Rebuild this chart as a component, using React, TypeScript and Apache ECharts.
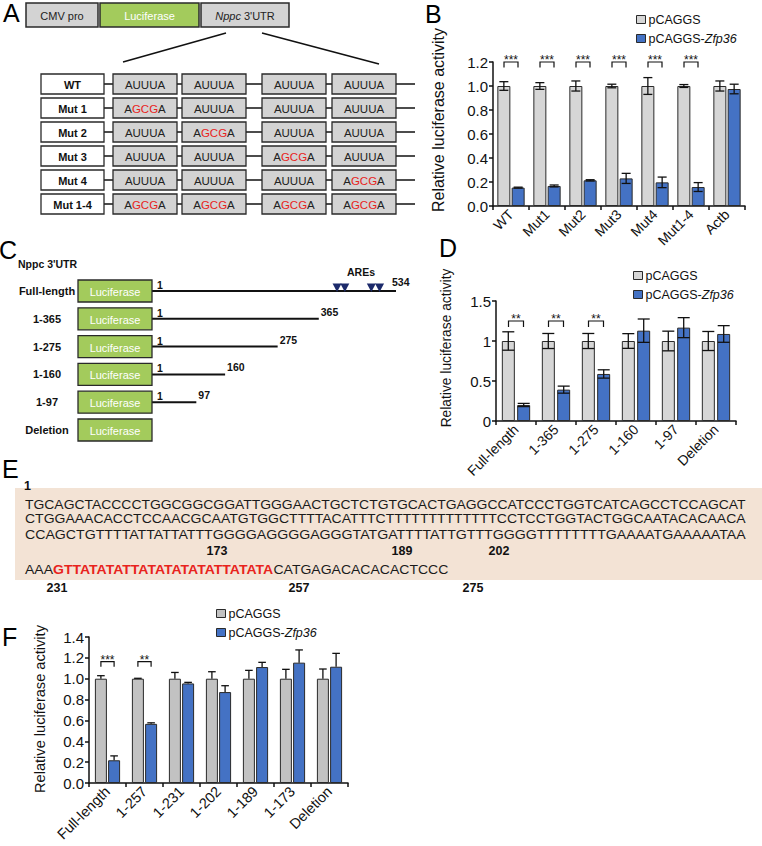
import React, { useEffect, useRef } from 'react';
import * as echarts from 'echarts';

const FONT = '"Liberation Sans", Arial, Helvetica, sans-serif';
const GRAY = '#d6d6d6';
const GRAY_F = '#c2c2c2';
const BLUE = '#4472c4';
const GREEN = '#a3cb5c';
const EDGE = '#2a2a2a';
const RED = '#e8231d';

// ---------- Panel A ----------
const constructParts = ['CMV pro', 'Luciferase', "{i|Nppc} 3'UTR"];
const mutantRows = ['WT', 'Mut 1', 'Mut 2', 'Mut 3', 'Mut 4', 'Mut 1-4'];
const mutatedSites = [[], [0], [1], [2], [3], [0, 1, 2, 3]];
const wildMotif = 'AUUUA';
const mutMotif = 'A{r|GCG}A';

// ---------- Panel B ----------
const catB = ['WT', 'Mut1', 'Mut2', 'Mut3', 'Mut4', 'Mut1-4', 'Actb'];
const ctrlB = [1, 1, 1, 1, 1, 1, 1];
const ctrlErrB = [0.036, 0.028, 0.042, 0.015, 0.07, 0.012, 0.042];
const zfpB = [0.153, 0.167, 0.214, 0.23, 0.197, 0.158, 0.975];
const zfpErrB = [0.004, 0.008, 0.005, 0.042, 0.044, 0.037, 0.04];
const sigB = ['***', '***', '***', '***', '***', '***', ''];
const axisB = { min: 0, max: 1.2, interval: 0.2 };

// ---------- Panel C ----------
const rowsC = ['Full-length', '1-365', '1-275', '1-160', '1-97', 'Deletion'];
const lengthsC = [534, 365, 275, 160, 97, 0];
const fullLengthC = 534;
const aresC = [405, 422, 480, 498];

// ---------- Panel D ----------
const catD = ['Full-length', '1-365', '1-275', '1-160', '1-97', 'Deletion'];
const ctrlD = [1, 1, 1, 1, 1, 1];
const ctrlErrD = [0.115, 0.094, 0.094, 0.092, 0.123, 0.119];
const zfpD = [0.2, 0.392, 0.588, 1.129, 1.167, 1.088];
const zfpErrD = [0.02, 0.044, 0.052, 0.146, 0.125, 0.104];
const sigD = ['**', '**', '**', '', '', ''];
const axisD = { min: 0, max: 1.5, interval: 0.5 };

// ---------- Panel E ----------
const seqLines = [
  'TGCAGCTACCCCTGGCGGCGGATTGGGAACTGCTCTGTGCACTGAGGCCATCCCTGGTCATCAGCCTCCAGCAT',
  'CTGGAAACACCTCCAACGCAATGTGGCTTTTACATTTCTTTTTTTTTTTTTCCTCCTGGTACTGGCAATACACAACA',
  'CCAGCTGTTTTATTATTATTTGGGGAGGGGAGGGTATGATTTTATTGTTTGGGGTTTTTTTTGAAAATGAAAAATAA',
];
const seqLastBefore = 'AAA';
const seqLastAre = 'GTTATATATTATATATATATTATATA';
const seqLastAfter = 'CATGAGACACACACTCCC';
const seqMarks = ['1', '173', '189', '202', '231', '257', '275'];

// ---------- Panel F ----------
const catF = ['Full-length', '1-257', '1-231', '1-202', '1-189', '1-173', 'Deletion'];
const ctrlF = [1, 1, 1, 1, 1, 1, 1];
const ctrlErrF = [0.029, 0.004, 0.06, 0.067, 0.08, 0.09, 0.093];
const zfpF = [0.218, 0.567, 0.955, 0.872, 1.112, 1.154, 1.115];
const zfpErrF = [0.042, 0.01, 0.01, 0.061, 0.045, 0.122, 0.128];
const sigF = ['***', '**', '', '', '', '', ''];
const axisF = { min: 0, max: 1.4, interval: 0.2 };

const seriesNames = ['pCAGGS', 'pCAGGS-Zfp36'];
const yName = 'Relative luciferase activity';

// ---------- helpers ----------
const T = (x: number, y: number, text: string, o: any = {}) => {
  const { rotation = 0, scaleX = 1, align = 'center', verticalAlign = 'middle', ...st } = o;
  return {
    type: 'text', x, y, rotation, scaleX, silent: true,
    style: {
      text, fontFamily: FONT, fontSize: 11, fill: '#111', ...st,
      align, textAlign: align, verticalAlign, textVerticalAlign: verticalAlign,
    },
  };
};
const R = (x: number, y: number, w: number, h: number, fill: string, lw = 1.3) => ({
  type: 'rect', silent: true, shape: { x, y, width: w, height: h },
  style: { fill, stroke: EDGE, lineWidth: lw },
});
const L = (x1: number, y1: number, x2: number, y2: number, lw = 1.5) => ({
  type: 'line', silent: true, shape: { x1, y1, x2, y2 }, style: { stroke: '#111', lineWidth: lw },
});

const measure = (text: string, font: string) => {
  const c = document.createElement('canvas').getContext('2d');
  if (!c) return text.length * 8;
  c.font = font;
  return c.measureText(text).width;
};

function buildGraphics() {
  const g: any[] = [];
  // Panel letters
  const letter = (x: number, y: number, s: string) => g.push(T(x, y, s, { fontSize: 25, align: 'left', fill: '#000' }));
  letter(3, 13, 'A');
  letter(425, 14, 'B');
  letter(-1, 250, 'C');
  letter(439, 248, 'D');
  letter(2, 469, 'E');
  letter(2, 637, 'F');

  // ---- Panel A ----
  const topBoxes = [{ x: 26, w: 72, fill: '#d3d3d3', c: '#222' }, { x: 100, w: 99, fill: GREEN, c: '#fff' }, { x: 201, w: 88, fill: '#d3d3d3', c: '#222' }];
  topBoxes.forEach((b, i) => {
    g.push(R(b.x, 3, b.w, 24, b.fill, 1.5));
    g.push(T(b.x + b.w / 2, 15.5, constructParts[i], { fontSize: 11, fill: b.c, rich: { i: { fontStyle: 'italic', fontSize: 11, fontFamily: FONT, fill: b.c } } }));
  });
  g.push(L(226, 33, 123, 62, 1.6));
  g.push(L(262, 33, 379, 64, 1.6));
  const siteX = [113, 182, 262, 332];
  mutantRows.forEach((name, r) => {
    const top = 74 + r * 24;
    const cy = top + 10;
    g.push(L(104, cy, 415, cy, 1.5));
    g.push(R(41, top, 63, 20, '#fff'));
    g.push(T(72.5, cy + 0.5, name, { fontSize: 11, fontWeight: 'bold' }));
    siteX.forEach((sx, k) => {
      g.push(R(sx, top, 64, 20, '#d3d3d3'));
      const mut = mutatedSites[r].indexOf(k) >= 0;
      g.push(T(sx + 32, cy + 0.5, mut ? mutMotif : wildMotif, { fontSize: 11.5, fill: '#222', rich: { r: { fill: RED, fontSize: 11.5, fontFamily: FONT } } }));
    });
  });

  // ---- Panel C ----
  g.push(T(18, 264, 'Nppc 3\'UTR', { align: 'left', fontSize: 10.5, fontWeight: 'bold' }));
  g.push(T(361, 271.5, 'AREs', { fontSize: 10.5, fontWeight: 'bold' }));
  const scaleC = 244 / fullLengthC;
  rowsC.forEach((name, r) => {
    const top = 280 + r * 27.8;
    const cy = top + 11;
    g.push(T(47, cy, name, { fontSize: 11, fontWeight: 'bold' }));
    const len = lengthsC[r];
    if (len > 0) {
      const xe = 152 + len * scaleC;
      g.push(L(152, cy, xe, cy, 2));
      g.push(T(157, cy - 6, '1', { align: 'left', fontSize: 10.5, fontWeight: 'bold' }));
      g.push(T(r === 0 ? xe - 4 : xe + 2, r === 0 ? cy - 9.5 : cy - 7, String(len), { align: 'left', fontSize: 10.5, fontWeight: 'bold' }));
      if (r === 0) {
        aresC.forEach((p) => {
          const x = 152 + p * scaleC;
          g.push({ type: 'polygon', silent: true, shape: { points: [[x - 4.5, cy - 7.5], [x + 4.5, cy - 7.5], [x, cy + 1]] }, style: { fill: '#1c2a6b' } });
        });
      }
    }
    g.push(R(78, top, 74, 22, GREEN));
    g.push(T(115, cy + 1, 'Luciferase', { fontSize: 11, fill: '#fff' }));
  });

  // ---- Panel E ----
  g.push({ type: 'rect', silent: true, shape: { x: 15, y: 488, width: 747, height: 92 }, style: { fill: '#f3e3d5' } });
  const seqFont = 12.5;
  const fontStr = `${seqFont}px "Liberation Sans"`;
  const lineY = [504.5, 519, 534.5];
  const scales: number[] = [];
  seqLines.forEach((s, i) => {
    const w = measure(s, fontStr);
    const sc = 721 / w;
    scales.push(sc);
    g.push(T(25, lineY[i], s, { align: 'left', fontSize: seqFont, scaleX: sc, fill: '#1a1a1a' }));
  });
  const avgSc = scales.reduce((a, b) => a + b, 0) / scales.length;
  g.push(T(25, 569.5, `${seqLastBefore}{r|${seqLastAre}}${seqLastAfter}`, {
    align: 'left', fontSize: seqFont, scaleX: avgSc, fill: '#1a1a1a',
    rich: { r: { fill: RED, fontWeight: 'bold', fontSize: seqFont, fontFamily: FONT } },
  }));
  const markPos = [[27.5, 486], [217, 550.5], [402, 550.5], [499, 550.5], [57, 588], [299, 588], [473, 588]];
  seqMarks.forEach((m, i) => {
    g.push(T(markPos[i][0], markPos[i][1], m, { fontSize: 12.5, fontWeight: 'bold' }));
  });

  // ---- Y axis names ----
  g.push(T(438, 120, yName, { rotation: Math.PI / 2, fontSize: 16, fill: '#111' }));
  g.push(T(446, 348, yName, { rotation: Math.PI / 2, fontSize: 13.8, fill: '#111' }));
  g.push(T(40, 709, yName, { rotation: Math.PI / 2, fontSize: 14.6, fill: '#111' }));
  return g;
}

const errBar = (ax: number, vals: number[], errs: number[], dx: number, cap: number, upperOnly: boolean) => ({
  type: 'custom', xAxisIndex: ax, yAxisIndex: ax, z: 10, silent: true, clip: false,
  encode: { x: 0, y: 1 },
  data: vals.map((v, i) => [i, v, errs[i]]),
  renderItem: (_p: any, api: any) => {
    const i = api.value(0), v = api.value(1), e = api.value(2);
    const hi = api.coord([i, v + e]);
    const lo = api.coord([i, upperOnly ? v : v - e]);
    const x = hi[0] + dx;
    const st = { stroke: '#111', lineWidth: 1.3 };
    const ch: any[] = [
      { type: 'line', shape: { x1: x, y1: hi[1], x2: x, y2: lo[1] }, style: st },
      { type: 'line', shape: { x1: x - cap, y1: hi[1], x2: x + cap, y2: hi[1] }, style: st },
    ];
    if (!upperOnly) ch.push({ type: 'line', shape: { x1: x - cap, y1: lo[1], x2: x + cap, y2: lo[1] }, style: st });
    return { type: 'group', children: ch };
  },
});

const bracket = (ax: number, labels: string[], yTop: number, yLeg: number, dxL: number, dxR: number, fs: number) => ({
  type: 'custom', xAxisIndex: ax, yAxisIndex: ax, z: 10, silent: true, clip: false,
  encode: { x: 0, y: 1 },
  data: labels.map((_s, i) => [i, yTop, yLeg]).filter((_d, i) => labels[i]),
  renderItem: (_p: any, api: any) => {
    const i = api.value(0);
    const t = api.coord([i, api.value(1)]);
    const b = api.coord([i, api.value(2)]);
    const xl = t[0] + dxL, xr = t[0] + dxR;
    return {
      type: 'group', children: [
        { type: 'polyline', shape: { points: [[xl, b[1]], [xl, t[1]], [xr, t[1]], [xr, b[1]]] }, style: { stroke: '#111', lineWidth: 1.2, fill: null } },
        { type: 'text', x: (xl + xr) / 2, y: t[1] - 2, style: { text: labels[i], fontSize: fs, fontFamily: FONT, fill: '#111', align: 'center', verticalAlign: 'middle', textAlign: 'center', textVerticalAlign: 'middle' } },
      ],
    };
  },
});

const axLine = { color: '#111', width: 1.5 };
const xAx = (gi: number, data: string[], fs: number) => ({
  type: 'category', gridIndex: gi, data,
  axisLine: { lineStyle: axLine },
  axisTick: { show: true, length: 4, lineStyle: axLine },
  axisLabel: { interval: 0, rotate: 45, fontSize: fs, fontFamily: FONT, color: '#111', margin: 6 },
});
const yAx = (gi: number, a: { min: number; max: number; interval: number }, fs: number, fmt: any) => ({
  type: 'value', gridIndex: gi, min: a.min, max: a.max, interval: a.interval,
  splitLine: { show: false },
  axisLine: { show: true, lineStyle: axLine },
  axisTick: { show: true, length: 4, lineStyle: axLine },
  axisLabel: { fontSize: fs, fontFamily: FONT, color: '#111', margin: 5, formatter: fmt },
});
const bars = (ax: number, data: number[], name: string, color: string, w: number, gap: string) => ({
  type: 'bar', name, xAxisIndex: ax, yAxisIndex: ax, data, barWidth: w, barGap: gap,
  itemStyle: { color, borderColor: EDGE, borderWidth: 1 },
});
const legend = (left: number, top: number, grayColor: string) => ({
  left, top, orient: 'vertical', padding: 0, itemGap: 6, itemWidth: 9, itemHeight: 8, icon: 'rect',
  selectedMode: false,
  data: [
    { name: seriesNames[0], itemStyle: { color: grayColor, borderColor: EDGE, borderWidth: 1 } },
    { name: seriesNames[1], itemStyle: { color: BLUE, borderColor: EDGE, borderWidth: 1 } },
  ],
  formatter: (n: string) => (n === seriesNames[1] ? 'pCAGGS-{i|Zfp36}' : n),
  textStyle: {
    fontSize: 12.5, fontFamily: FONT, color: '#111', padding: [0, 0, 0, -2],
    rich: { i: { fontStyle: 'italic', fontSize: 12.5, fontFamily: FONT, color: '#111' } },
  },
});

const fmt1 = (v: number) => v.toFixed(1);

export default function App() {
  const ref = useRef<HTMLDivElement>(null);
  useEffect(() => {
    if (!ref.current) return;
    const chart = echarts.init(ref.current, undefined, { renderer: 'svg' });
    chart.setOption({
      animation: false,
      backgroundColor: '#ffffff',
      grid: [
        { left: 493, top: 62, width: 252, height: 144 },
        { left: 496, top: 301, width: 240, height: 120 },
        { left: 89, top: 637, width: 259, height: 146 },
      ],
      xAxis: [xAx(0, catB, 14), xAx(1, catD, 14), xAx(2, catF, 14.5)],
      yAxis: [yAx(0, axisB, 15, fmt1), yAx(1, axisD, 15, undefined), yAx(2, axisF, 15, fmt1)],
      legend: [legend(636, 13, GRAY), legend(633, 269, GRAY), legend(216, 607, GRAY_F)],
      series: [
        bars(0, ctrlB, seriesNames[0], GRAY, 13, '10%'),
        bars(0, zfpB, seriesNames[1], BLUE, 13, '10%'),
        errBar(0, ctrlB, ctrlErrB, -7.15, 4.5, false),
        errBar(0, zfpB, zfpErrB, 7.15, 4.5, false),
        bracket(0, sigB, 1.2, 1.155, -7, 7, 12),
        bars(1, ctrlD, seriesNames[0], GRAY, 13, '18%'),
        bars(1, zfpD, seriesNames[1], BLUE, 13, '18%'),
        errBar(1, ctrlD, ctrlErrD, -7.7, 6, false),
        errBar(1, zfpD, zfpErrD, 7.7, 6, false),
        bracket(1, sigD, 1.25, 1.175, -7.5, 7.5, 12),
        bars(2, ctrlF, seriesNames[0], GRAY_F, 12, '10%'),
        bars(2, zfpF, seriesNames[1], BLUE, 12, '10%'),
        errBar(2, ctrlF, ctrlErrF, -6.6, 3.8, true),
        errBar(2, zfpF, zfpErrF, 6.6, 3.8, true),
        bracket(2, sigF, 1.163, 1.115, -6.6, 6.6, 12),
      ],
      graphic: { elements: buildGraphics() },
    });
    return () => chart.dispose();
  }, []);
  return <div ref={ref} style={{ position: 'absolute', left: 0, top: 0, width: 762, height: 846, background: '#fff' }} />;
}
